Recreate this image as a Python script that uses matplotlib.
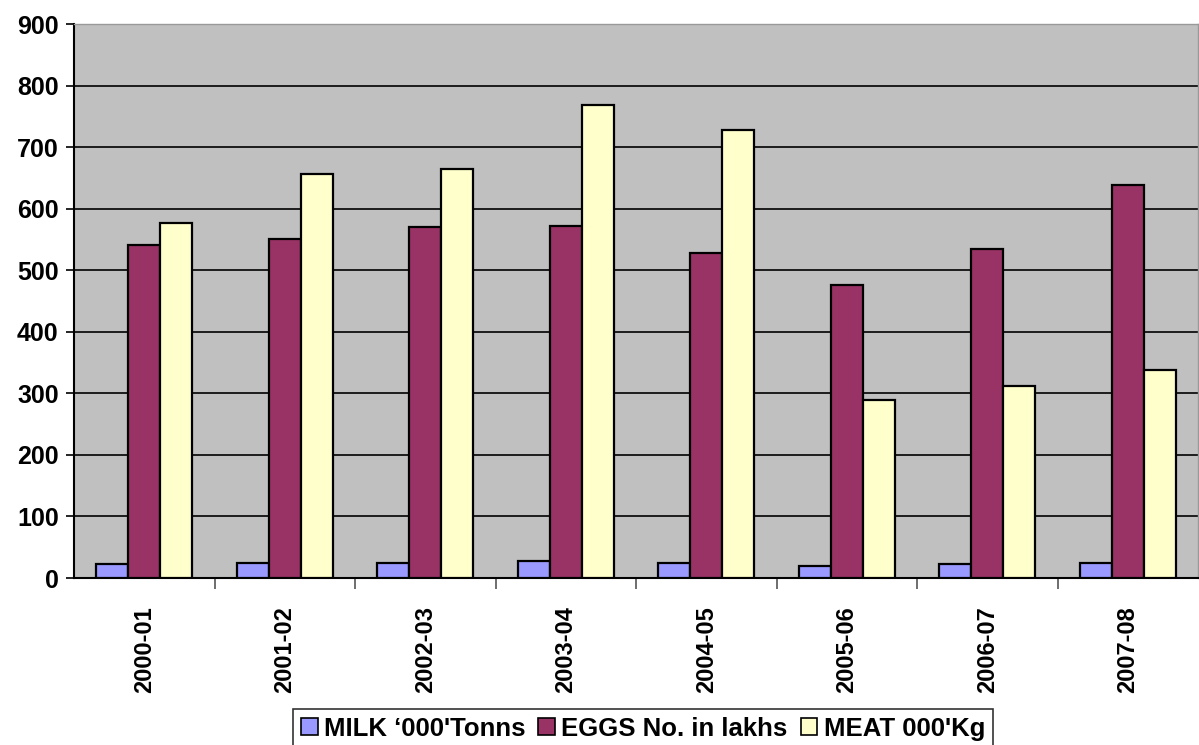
import matplotlib.pyplot as plt
import numpy as np

plt.rcParams['font.family'] = ['Liberation Sans', 'DejaVu Sans']
plt.rcParams['font.weight'] = 'bold'

years = ['2000-01', '2001-02', '2002-03', '2003-04',
         '2004-05', '2005-06', '2006-07', '2007-08']
milk = [23, 24, 25, 27, 24, 20, 22, 24]
eggs = [541, 550, 570, 572, 528, 476, 534, 639]
meat = [576, 657, 665, 768, 728, 289, 312, 338]

series = [
    ("MILK \u2018000'Tonns", milk, '#9999FF'),
    ('EGGS No. in lakhs', eggs, '#993366'),
    ("MEAT 000'Kg", meat, '#FFFFCC'),
]

fig = plt.figure(figsize=(11.99, 7.45), dpi=100)
ax = fig.add_axes([74 / 1199, 1 - 578 / 745, 1124 / 1199, 554 / 745])
ax.set_facecolor('#C0C0C0')

x = np.arange(len(years))
w = 0.2275
for i, (name, vals, col) in enumerate(series):
    ax.bar(x + (i - 1) * w, vals, width=w, color=col, edgecolor='black',
           linewidth=1.6, label=name, zorder=3)

ax.set_xlim(-0.5, len(years) - 0.5)
ax.set_ylim(0, 900)
ax.set_yticks(range(0, 901, 100))
ax.yaxis.grid(True, color='black', linewidth=1.2, zorder=0)
ax.tick_params(axis='y', labelsize=18, length=6, width=1.2, pad=5)

# category labels centred, tick marks between categories
ax.set_xticks(x)
ax.set_xticklabels(years, rotation=90, fontsize=17)
ax.tick_params(axis='x', length=0, pad=20)
ax.set_xticks(np.arange(0.5, len(years) - 0.5, 1), minor=True)
ax.tick_params(axis='x', which='minor', length=8, width=1.2, color='#555555')

for s in ['left', 'bottom']:
    ax.spines[s].set_color('black')
    ax.spines[s].set_linewidth(1.5)
for s in ['top', 'right']:
    ax.spines[s].set_color('#999999')
    ax.spines[s].set_linewidth(1)

leg = fig.legend(loc='upper center', bbox_to_anchor=(643 / 1199, 1 - 709 / 745),
                 ncol=3, fontsize=18.5, frameon=True, fancybox=False,
                 edgecolor='black', handlelength=0.65, handleheight=0.65,
                 handletextpad=0.25, columnspacing=0.5, borderpad=0.3,
                 borderaxespad=0)
leg.get_frame().set_linewidth(1.2)
for p in leg.get_patches():
    p.set_linewidth(1.2)

fig.savefig('out.png', dpi=100)
